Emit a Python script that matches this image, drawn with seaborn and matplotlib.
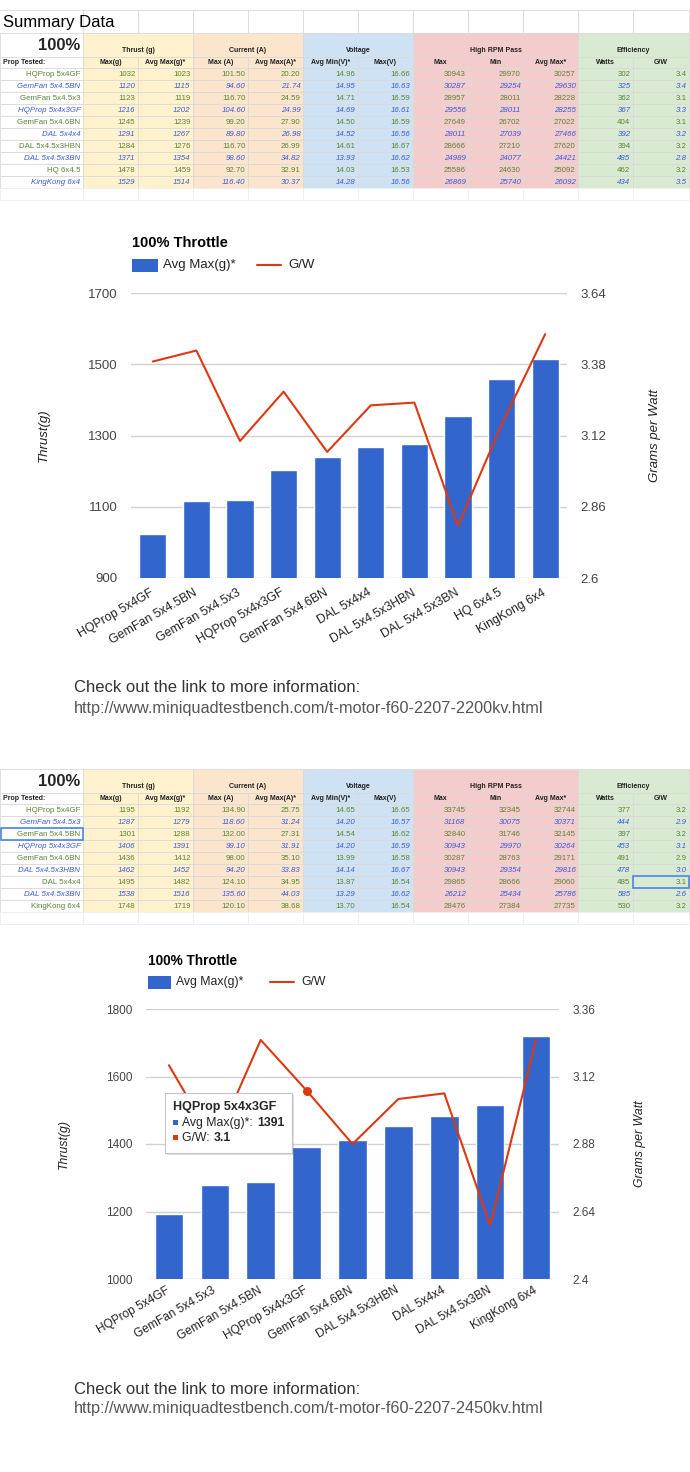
import numpy as np
import seaborn as sns
import matplotlib.pyplot as plt
from matplotlib.patches import Rectangle

# ---- sheet 1: T-Motor F60 2207 2200kv ----
props_a = ["HQProp 5x4GF", "GemFan 5x4.5BN", "GemFan 5x4.5x3", "HQProp 5x4x3GF", "GemFan 5x4.6BN",
           "DAL 5x4x4", "DAL 5x4.5x3HBN", "DAL 5x4.5x3BN", "HQ 6x4.5", "KingKong 6x4"]
thrust_max_a = [1032, 1120, 1123, 1216, 1245, 1291, 1284, 1371, 1478, 1529]
thrust_avg_a = [1023, 1115, 1119, 1202, 1239, 1267, 1276, 1354, 1459, 1514]
amp_max_a = [101.50, 94.60, 116.70, 104.60, 99.20, 89.80, 116.70, 98.60, 92.70, 116.40]
amp_avg_a = [20.20, 21.74, 24.59, 24.99, 27.90, 26.98, 26.99, 34.82, 32.91, 30.37]
volt_min_a = [14.96, 14.95, 14.71, 14.69, 14.50, 14.52, 14.61, 13.93, 14.03, 14.28]
volt_max_a = [16.66, 16.63, 16.59, 16.61, 16.59, 16.56, 16.67, 16.62, 16.53, 16.56]
rpm_max_a = [30943, 30287, 28957, 29556, 27649, 28011, 28666, 24989, 25586, 26869]
rpm_min_a = [29970, 29254, 28011, 28011, 26702, 27039, 27210, 24077, 24630, 25740]
rpm_avg_a = [30257, 29630, 28228, 28255, 27022, 27466, 27620, 24421, 25092, 26092]
watts_a = [302, 325, 362, 367, 404, 392, 394, 485, 462, 434]
gw_a = [3.39, 3.43, 3.10, 3.28, 3.06, 3.23, 3.24, 2.79, 3.16, 3.49]

# ---- sheet 2: T-Motor F60 2207 2450kv ----
props_b = ["HQProp 5x4GF", "GemFan 5x4.5x3", "GemFan 5x4.5BN", "HQProp 5x4x3GF", "GemFan 5x4.6BN",
           "DAL 5x4.5x3HBN", "DAL 5x4x4", "DAL 5x4.5x3BN", "KingKong 6x4"]
thrust_max_b = [1195, 1287, 1301, 1406, 1436, 1462, 1495, 1538, 1748]
thrust_avg_b = [1192, 1279, 1288, 1391, 1412, 1452, 1482, 1516, 1719]
amp_max_b = [134.90, 118.60, 132.00, 99.10, 98.00, 94.20, 124.10, 135.60, 120.10]
amp_avg_b = [25.75, 31.24, 27.31, 31.91, 35.10, 33.83, 34.95, 44.03, 38.68]
volt_min_b = [14.65, 14.20, 14.54, 14.20, 13.99, 14.14, 13.87, 13.29, 13.70]
volt_max_b = [16.65, 16.57, 16.62, 16.59, 16.58, 16.67, 16.54, 16.62, 16.54]
rpm_max_b = [33745, 31168, 32840, 30943, 30287, 30943, 29865, 26212, 28476]
rpm_min_b = [32345, 30075, 31746, 29970, 28763, 29354, 28666, 25434, 27384]
rpm_avg_b = [32744, 30371, 32145, 30264, 29171, 29816, 29060, 25786, 27735]
watts_b = [377, 444, 397, 453, 491, 478, 485, 585, 530]
gw_b = [3.16, 2.88, 3.25, 3.07, 2.88, 3.04, 3.06, 2.59, 3.25]
hover_b = 3  # tooltip shown on HQProp 5x4x3GF

thrust_ticks_a = [900, 1100, 1300, 1500, 1700]
gw_ticks_a = [2.6, 2.86, 3.12, 3.38, 3.64]
thrust_ticks_b = [1000, 1200, 1400, 1600, 1800]
gw_ticks_b = [2.4, 2.64, 2.88, 3.12, 3.36]

sub_headers = ["Max(g)", "Avg Max(g)*", "Max (A)", "Avg Max(A)*", "Avg Min(V)*", "Max(V)",
               "Max", "Min", "Avg Max*", "Watts", "G/W"]

BLUE = "#3366cc"
RED = "#dc3912"
GRID = "#dadada"
TXT_GREEN = "#5a8532"
TXT_BLUE = "#3d5ad6"
COL_X = [0, 83, 138, 193, 248, 303, 358, 413, 468, 523, 578, 633, 689]
GROUPS = [("Thrust (g)", 1, 3, "#fff2cc"), ("Current (A)", 3, 5, "#fce5cd"),
          ("Voltage", 5, 7, "#cfe2f3"), ("High RPM Pass", 7, 10, "#f4cccc"),
          ("Efficiency", 10, 12, "#d9ead3")]

sns.set_style("white")
plt.rcParams["font.family"] = ["Liberation Sans", "DejaVu Sans"]

W, H = 690, 1472
fig = plt.figure(figsize=(W / 100, H / 100), dpi=100)

# overlay in pixel coordinates for the sheets and loose text
ov = fig.add_axes([0, 0, 1, 1], zorder=10)
ov.set_xlim(0, W)
ov.set_ylim(H, 0)
ov.axis("off")


def col_color(c):
    for _, a, b, colr in GROUPS:
        if a <= c < b:
            return colr
    return "white"


def box(x0, y0, x1, y1, fc, ec=GRID, lw=0.6):
    ov.add_patch(Rectangle((x0, y0), x1 - x0, y1 - y0, facecolor=fc, edgecolor=ec, lw=lw))


def make_columns(tmax, tavg, amax, aavg, vmin, vmax, rmax, rmin, ravg, watts, gw):
    return [[str(v) for v in tmax], [str(v) for v in tavg],
            [f"{v:.2f}" for v in amax], [f"{v:.2f}" for v in aavg],
            [f"{v:.2f}" for v in vmin], [f"{v:.2f}" for v in vmax],
            [str(v) for v in rmax], [str(v) for v in rmin], [str(v) for v in ravg],
            [str(v) for v in watts], [f"{v:.1f}" for v in gw]]


def draw_table(top, names, columns):
    h1, h2, rh = 23.5, 11.5, 12
    # group header row
    box(COL_X[0], top, COL_X[1], top + h1, "white")
    ov.text(COL_X[1] - 3, top + h1 / 2 + 1, "100%", ha="right", va="center",
            fontsize=12, fontweight="bold")
    for label, a, b, colr in GROUPS:
        box(COL_X[a], top, COL_X[b], top + h1, colr)
        ov.text((COL_X[a] + COL_X[b]) / 2, top + h1 - 6, label, ha="center", va="center",
                fontsize=5, fontweight="bold", color="#222222")
    # column header row
    y = top + h1
    for c in range(12):
        box(COL_X[c], y, COL_X[c + 1], y + h2, col_color(c))
        if c == 0:
            ov.text(3, y + h2 / 2, "Prop Tested:", ha="left", va="center",
                    fontsize=5, fontweight="bold", color="#222222")
        else:
            ov.text((COL_X[c] + COL_X[c + 1]) / 2, y + h2 / 2, sub_headers[c - 1],
                    ha="center", va="center", fontsize=5, fontweight="bold", color="#222222")
    # data rows
    y0 = top + h1 + h2
    for r, name in enumerate(names):
        y = y0 + r * rh
        italic = r % 2 == 1
        colr = TXT_BLUE if italic else TXT_GREEN
        for c in range(12):
            box(COL_X[c], y, COL_X[c + 1], y + rh, col_color(c))
            txt = name if c == 0 else columns[c - 1][r]
            ov.text(COL_X[c + 1] - 2.5, y + rh / 2 + 0.3, txt, ha="right", va="center",
                    fontsize=5.7, style="italic" if italic else "normal", color=colr)
    # trailing empty row
    y = y0 + len(names) * rh
    for c in range(12):
        box(COL_X[c], y, COL_X[c + 1], y + rh, "white", ec="#eeeeee")
    return y0, rh


def draw_chart(px, names, thrust, gw, ticks, gticks, fs, xfs, xpad):
    x0, y0, x1, y1 = px
    ax = fig.add_axes([x0 / W, 1 - y1 / H, (x1 - x0) / W, (y1 - y0) / H])
    sns.barplot(x=names, y=thrust, color=BLUE, saturation=1, width=0.62, ax=ax, zorder=3)
    ax.set_ylim(ticks[0], ticks[-1])
    ax.set_yticks(ticks)
    ax.yaxis.grid(True, color="#d0d0d0", lw=1)
    ax.set_axisbelow(True)
    sns.despine(ax=ax, left=True, bottom=True)
    ax.tick_params(axis="y", length=0, pad=9.5, labelsize=fs, labelcolor="#444444")
    ax.set_xticks(range(len(names)))
    ax.set_xticklabels(names, rotation=30, ha="right", va="center", rotation_mode="anchor",
                       fontsize=xfs, color="#222222")
    ax.tick_params(axis="x", length=0, pad=xpad)
    ax.set_xlabel("")
    ax.set_ylabel("")

    ax2 = ax.twinx()
    sns.lineplot(x=np.arange(len(gw)), y=gw, ax=ax2, color=RED, lw=1.5)
    ax2.set_ylim(gticks[0], gticks[-1])
    ax2.set_yticks(gticks)
    ax2.set_yticklabels([f"{t:g}" for t in gticks])
    ax2.tick_params(axis="y", length=0, pad=9.5, labelsize=fs, labelcolor="#444444")
    ax2.set_ylabel("")
    sns.despine(ax=ax2, left=True, right=True, bottom=True)
    ax.set_xlim(-0.5, len(names) - 0.5)
    return ax, ax2


def legend(x, y, title_y, rect_w, fs):
    ov.text(x, title_y, "100% Throttle", ha="left", va="center", fontsize=fs + 1,
            fontweight="bold", color="#000000")
    ov.add_patch(Rectangle((x, y - 6.5), rect_w, 13, facecolor=BLUE, edgecolor="none"))
    ov.text(x + rect_w + 5, y, "Avg Max(g)*", ha="left", va="center", fontsize=fs, color="#222222")
    lx = x + rect_w + 99
    ov.plot([lx, lx + 24], [y, y], color=RED, lw=1.5)
    ov.text(lx + 31, y, "G/W", ha="left", va="center", fontsize=fs, color="#222222")


def axis_titles(xl, xr, yc, fs):
    ov.text(xl, yc, "Thrust(g)", rotation=90, ha="center", va="center", fontsize=fs,
            style="italic", color="#222222")
    ov.text(xr, yc, "Grams per Watt", rotation=90, ha="center", va="center", fontsize=fs,
            style="italic", color="#222222")


def link_text(y, url):
    ov.text(74, y, "Check out the link to more information:", ha="left", va="center",
            fontsize=12, color="#333333")
    ov.text(74, y + 20, url, ha="left", va="center", fontsize=11.7, color="#555555")


# ---- top sheet ----
for c in range(12):
    if c != 0:
        box(COL_X[c], 10, COL_X[c + 1], 33, "white")
ov.plot([0, COL_X[1]], [10, 10], color=GRID, lw=0.6)
ov.text(3, 22, "Summary Data", ha="left", va="center", fontsize=12, color="#000000")
draw_table(33, props_a, make_columns(thrust_max_a, thrust_avg_a, amp_max_a, amp_avg_a,
                                     volt_min_a, volt_max_a, rpm_max_a, rpm_min_a,
                                     rpm_avg_a, watts_a, gw_a))

# ---- first chart ----
draw_chart((131, 293, 567, 578), props_a, thrust_avg_a, gw_a,
           thrust_ticks_a, gw_ticks_a, 9.5, 8.9, 10)
legend(132, 265, 243, 26, 9.5)
axis_titles(44, 655, 435.5, 9.5)
link_text(688, "http://www.miniquadtestbench.com/t-motor-f60-2207-2200kv.html")

# ---- second sheet ----
y0_b, rh_b = draw_table(769, props_b, make_columns(thrust_max_b, thrust_avg_b, amp_max_b,
                                                   amp_avg_b, volt_min_b, volt_max_b,
                                                   rpm_max_b, rpm_min_b, rpm_avg_b,
                                                   watts_b, gw_b))
# selected cells
box(1, y0_b + 2 * rh_b, COL_X[1], y0_b + 3 * rh_b, "none", ec="#4a86e8", lw=1.2)
box(COL_X[11], y0_b + 6 * rh_b, COL_X[12], y0_b + 7 * rh_b, "none", ec="#4a86e8", lw=1.2)

# ---- second chart ----
ax_b, ax2_b = draw_chart((146, 1009, 559, 1279), props_b, thrust_avg_b, gw_b,
                         thrust_ticks_b, gw_ticks_b, 8.5, 8.6, 7.5)
ax2_b.scatter([hover_b], [gw_b[hover_b]], s=30, color=RED, zorder=5)
legend(148, 982, 961, 23, 8.8)
axis_titles(64, 640, 1144, 8.8)

# tooltip
ov.add_patch(Rectangle((167, 1095), 127, 60, facecolor="#000000", alpha=0.12, edgecolor="none"))
box(165, 1093, 292, 1153, "white", ec="#c4c4c4", lw=0.8)
ov.text(173, 1107, props_b[hover_b], ha="left", va="center", fontsize=9, fontweight="bold")
ov.add_patch(Rectangle((173, 1120), 5, 5, facecolor=BLUE, edgecolor="none"))
ov.text(182, 1123, "Avg Max(g)*: ", ha="left", va="center", fontsize=8.8, color="#222222")
ov.text(257, 1123, str(thrust_avg_b[hover_b]), ha="left", va="center", fontsize=8.8,
        fontweight="bold")
ov.add_patch(Rectangle((173, 1135), 5, 5, facecolor=RED, edgecolor="none"))
ov.text(182, 1138, "G/W: ", ha="left", va="center", fontsize=8.8, color="#222222")
ov.text(214, 1138, f"{gw_b[hover_b]:.1f}", ha="left", va="center", fontsize=8.8,
        fontweight="bold")

link_text(1389, "http://www.miniquadtestbench.com/t-motor-f60-2207-2450kv.html")

fig.savefig("out.png", dpi=100)
